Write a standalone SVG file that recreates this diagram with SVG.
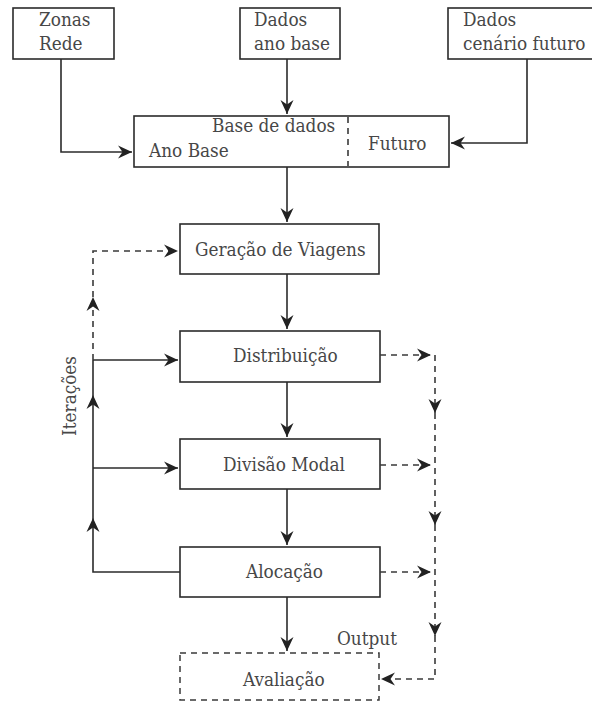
<svg xmlns="http://www.w3.org/2000/svg" width="592" height="702" viewBox="0 0 592 702">
  <style>
    .box { fill: #ffffff; stroke: #2b2b2b; stroke-width: 1.6; }
    .dbox { fill: none; stroke: #3a3a3a; stroke-width: 1.5; stroke-dasharray: 6 5; }
    .ln { fill: none; stroke: #2b2b2b; stroke-width: 1.6; }
    .dl { fill: none; stroke: #3a3a3a; stroke-width: 1.6; stroke-dasharray: 6 5; }
    .arr { marker-end: url(#head); }
    text { font-family: "DejaVu Serif Condensed", "DejaVu Serif", serif; font-stretch: condensed; font-size: 18.8px; fill: #474747; }
  </style>
  <defs>
    <marker id="head" viewBox="-16 -8 18 16" refX="0" refY="0" markerWidth="18" markerHeight="16" markerUnits="userSpaceOnUse" orient="auto">
      <path d="M-14,-6.5 L0,0 L-14,6.5 L-9.5,0 Z" fill="#222222"/>
    </marker>
  </defs>

  <!-- input boxes -->
  <g id="zonas-rede">
    <rect class="box" x="13" y="8" width="101" height="51"/>
    <text x="39" y="26">Zonas</text>
    <text x="39" y="50">Rede</text>
  </g>
  <g id="dados-ano-base">
    <rect class="box" x="240" y="8" width="100" height="51"/>
    <text x="254" y="26">Dados</text>
    <text x="254" y="50">ano base</text>
  </g>
  <g id="dados-cenario-futuro">
    <rect class="box" x="448" y="8" width="160" height="51"/>
    <text x="463" y="26">Dados</text>
    <text x="463" y="50">cenário futuro</text>
  </g>

  <!-- database -->
  <g id="base-de-dados">
    <rect class="box" x="134" y="116" width="315" height="51"/>
    <line class="dl" x1="348" y1="117" x2="348" y2="166" stroke-dasharray="5 4"/>
    <text x="212" y="132">Base de dados</text>
    <text x="149" y="157">Ano Base</text>
    <text x="368" y="150">Futuro</text>
  </g>

  <!-- model stages -->
  <g id="geracao">
    <rect class="box" x="180" y="224" width="199" height="50"/>
    <text x="195" y="256">Geração de Viagens</text>
  </g>
  <g id="distribuicao">
    <rect class="box" x="180" y="331" width="200" height="51"/>
    <text x="233" y="362">Distribuição</text>
  </g>
  <g id="divisao-modal">
    <rect class="box" x="180" y="439" width="200" height="50"/>
    <text x="223" y="471">Divisão Modal</text>
  </g>
  <g id="alocacao">
    <rect class="box" x="180" y="547" width="200" height="50"/>
    <text x="246" y="578">Alocação</text>
  </g>
  <g id="avaliacao">
    <rect class="dbox" x="180" y="653" width="199" height="47"/>
    <text x="243" y="686">Avaliação</text>
  </g>

  <g id="labels">
    <text x="337" y="645">Output</text>
    <text transform="translate(76,356) rotate(-90)" text-anchor="end">Iterações</text>
  </g>

  <!-- connectors -->
  <g id="connectors">
    <!-- inputs into the database -->
    <polyline class="ln arr" points="61,59 61,152 132,152"/>
    <line class="ln arr" x1="287" y1="59" x2="287" y2="114"/>
    <polyline class="ln arr" points="527,59 527,143 451,143"/>

    <!-- main chain -->
    <line class="ln arr" x1="287" y1="167" x2="287" y2="222"/>
    <line class="ln arr" x1="287" y1="274" x2="287" y2="329"/>
    <line class="ln arr" x1="287" y1="382" x2="287" y2="437"/>
    <line class="ln arr" x1="287" y1="489" x2="287" y2="545"/>
    <line class="ln arr" x1="287" y1="597" x2="287" y2="651"/>

    <!-- iteration loop on the left -->
    <polyline class="ln arr" points="180,572 93,572 93,518"/>
    <line class="ln" x1="93" y1="518" x2="93" y2="468"/>
    <line class="ln arr" x1="93" y1="468" x2="178" y2="468"/>
    <line class="ln arr" x1="93" y1="468" x2="93" y2="395"/>
    <line class="ln" x1="93" y1="395" x2="93" y2="360"/>
    <line class="ln arr" x1="93" y1="360" x2="178" y2="360"/>
    <line class="dl arr" x1="93" y1="360" x2="93" y2="297"/>
    <polyline class="dl arr" points="93,297 93,251 178,251"/>

    <!-- outputs on the right -->
    <line class="dl arr" x1="380" y1="355" x2="431" y2="355"/>
    <line class="dl arr" x1="380" y1="465" x2="431" y2="465"/>
    <line class="dl arr" x1="380" y1="572" x2="431" y2="572"/>
    <line class="dl arr" x1="435" y1="355" x2="435" y2="413"/>
    <line class="dl arr" x1="435" y1="413" x2="435" y2="525"/>
    <line class="dl arr" x1="435" y1="525" x2="435" y2="636"/>
    <polyline class="dl arr" points="435,636 435,679 381,679"/>
  </g>
</svg>
